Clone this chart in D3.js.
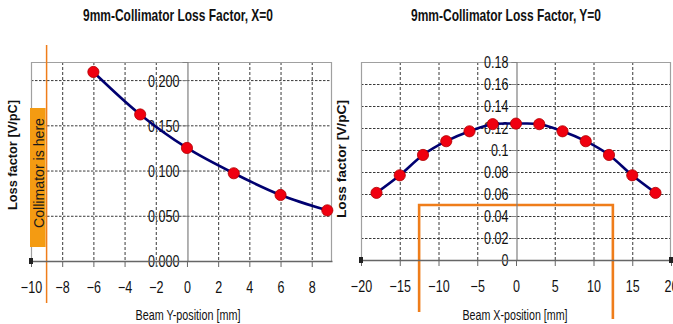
<!DOCTYPE html>
<html>
<head>
<meta charset="utf-8">
<script src="https://cdn.jsdelivr.net/npm/d3@7"></script>
<style>
  body { margin: 0; background: #fff; }
  svg { display: block; font-family: "Liberation Sans", Arial, sans-serif; }
  .title { font-size: 17px; font-weight: bold; fill: #111; }
  .tick text { font-size: 16.5px; fill: #111; font-family: "Liberation Sans", Arial, sans-serif; }
  .xTitle { font-size: 14px; fill: #111; }
  .yTitle { font-size: 13.5px; font-weight: bold; fill: #111; }
</style>
</head>
<body>
<div id="chart"></div>
<script>
// Left panel: loss factor vs beam Y-position (X=0)
var leftX = [-6, -3, 0, 3, 6, 9];
var leftLoss = [0.209, 0.162, 0.125, 0.097, 0.073, 0.056];
var leftXTicks = [-10, -8, -6, -4, -2, 0, 2, 4, 6, 8];
var leftYTicks = [0, 0.05, 0.1, 0.15, 0.2];

// Right panel: loss factor vs beam X-position (Y=0)
var rightX = [-18, -15, -12, -9, -6, -3, 0, 3, 6, 9, 12, 15, 18];
var rightLoss = [0.061, 0.077, 0.0955, 0.108, 0.117, 0.1235, 0.124, 0.1235, 0.117, 0.108, 0.0955, 0.077, 0.061];
var rightXTicks = [-20, -15, -10, -5, 0, 5, 10, 15, 20];
var rightYTicks = [0, 0.02, 0.04, 0.06, 0.08, 0.1, 0.12, 0.14, 0.16, 0.18];

var svgWidth = 673;
var svgHeight = 324;
var narrow = 0.76; // squeeze factor to imitate a narrow face

var svg = d3.select("#chart")
  .append("svg")
  .attr("width", svgWidth)
  .attr("height", svgHeight);

function drawPanel(opts) {
  var x = d3.scaleLinear().domain(opts.xDomain).range(opts.xRange);
  var y = d3.scaleLinear().domain(opts.yDomain).range(opts.yRange);
  var g = svg.append("g");

  var x0 = opts.xRange[0], x1 = opts.xRange[1];
  var yb = opts.yRange[0], yt = opts.yRange[1];

  // title
  g.append("text")
    .attr("class", "title")
    .attr("x", opts.titleX)
    .attr("y", 21)
    .attr("text-anchor", "middle")
    .attr("textLength", 190)
    .attr("lengthAdjust", "spacingAndGlyphs")
    .text(opts.title);

  // grid lines
  g.selectAll(".hgrid")
    .data(opts.yTicks.filter(d => d > 0 && y(d) > yt + 1))
    .enter().append("line")
    .attr("x1", x0).attr("x2", x1)
    .attr("y1", d => y(d) + 0.5).attr("y2", d => y(d) + 0.5)
    .attr("stroke", "#222").attr("stroke-width", 0.9)
    .attr("stroke-dasharray", "2.5,1.5");

  g.selectAll(".vgrid")
    .data(opts.xTicks.filter(d => d !== 0 && x(d) > x0 + 1 && x(d) < x1 - 1))
    .enter().append("line")
    .attr("x1", d => x(d) + 0.5).attr("x2", d => x(d) + 0.5)
    .attr("y1", yt).attr("y2", yb)
    .attr("stroke", "#222").attr("stroke-width", 0.9)
    .attr("stroke-dasharray", "3,2");

  // plot frame (top, left, right)
  g.append("path")
    .attr("d", `M${x0 + 0.5},${yb} V${yt + 0.5} H${x1 - 0.5} V${yb}`)
    .attr("fill", "none")
    .attr("stroke", "#a0a0a0")
    .attr("stroke-width", 1.2);

  // annotation behind the data
  if (opts.annotate) opts.annotate(g, x, y);

  // y axis at x = 0
  var yAxis = d3.axisLeft(y)
    .tickValues(opts.yTicks)
    .tickFormat(opts.yFormat)
    .tickSize(5)
    .tickPadding(2);
  var ya = g.append("g")
    .attr("transform", `translate(${x(0) + 0.5},0)`)
    .call(yAxis);
  ya.select(".domain").attr("stroke", "#808080").attr("stroke-width", 1.2);
  ya.selectAll(".tick line").attr("stroke", "#808080");
  ya.selectAll(".tick text")
    .attr("dy", "0.36em")
    .attr("transform", `scale(${narrow},1)`)
    .attr("x", -8 / narrow);

  // x axis at y = 0
  var xAxis = d3.axisBottom(x)
    .tickValues(opts.xTicks)
    .tickFormat(d3.format("d"))
    .tickSize(6)
    .tickPadding(11)
    .tickSizeOuter(0);
  var xa = g.append("g")
    .attr("transform", `translate(0,${y(0)})`)
    .call(xAxis);
  xa.select(".domain").attr("stroke", "#666").attr("stroke-width", 1.6);
  xa.selectAll(".tick line").attr("stroke", "#666");
  xa.selectAll(".tick text")
    .attr("transform", `scale(${narrow},1)`)
    .attr("dy", "0.9em");

  // small end markers on the x axis
  opts.endMarks.forEach(function(v) {
    g.append("rect")
      .attr("x", x(v) - 2).attr("y", y(0) - 3)
      .attr("width", 4).attr("height", 6)
      .attr("fill", "#222");
  });

  // x axis title
  g.append("text")
    .attr("class", "xTitle")
    .attr("x", opts.xTitleX)
    .attr("y", 320)
    .attr("text-anchor", "middle")
    .attr("textLength", 105)
    .attr("lengthAdjust", "spacingAndGlyphs")
    .text(opts.xTitle);

  // y axis title
  g.append("text")
    .attr("class", "yTitle")
    .attr("transform", `translate(${opts.yTitle[0]},${opts.yTitle[1]}) rotate(-90)`)
    .attr("text-anchor", "middle")
    .attr("textLength", opts.yTitle[2])
    .attr("lengthAdjust", "spacingAndGlyphs")
    .text("Loss factor [V/pC]");

  // curve
  var pts = opts.xs.map((d, i) => [d, opts.ys[i]]);
  var line = d3.line()
    .x(d => x(d[0]))
    .y(d => y(d[1]))
    .curve(d3.curveCatmullRom.alpha(0.5));

  g.append("path")
    .datum(pts)
    .attr("d", line)
    .attr("fill", "none")
    .attr("stroke", "#000070")
    .attr("stroke-width", 2.6);

  g.selectAll(".dot")
    .data(pts)
    .enter().append("circle")
    .attr("cx", d => x(d[0]))
    .attr("cy", d => y(d[1]))
    .attr("r", 5.6)
    .attr("fill", "#f00010")
    .attr("stroke", "#b00000")
    .attr("stroke-width", 0.8);
}

drawPanel({
  title: "9mm-Collimator Loss Factor, X=0",
  titleX: 178,
  xTitle: "Beam Y-position [mm]",
  xTitleX: 188,
  xs: leftX, ys: leftLoss,
  xTicks: leftXTicks, yTicks: leftYTicks,
  xDomain: [-10, 9.3], xRange: [31, 332],
  yDomain: [0, 0.22], yRange: [261, 62],
  yFormat: d3.format(".3f"),
  yTitle: [17, 155, 110],
  endMarks: [-10],
  annotate: function(g, x, y) {
    // "Collimator is here" label box and collimator line at -9 mm
    g.append("rect")
      .attr("x", x(-10) - 1).attr("y", 108)
      .attr("width", x(-9) - x(-10)).attr("height", 139)
      .attr("fill", "#f49b12");
    g.append("text")
      .attr("transform", `translate(${x(-9.5) + 5},173) rotate(-90)`)
      .attr("text-anchor", "middle")
      .attr("font-size", "14px")
      .attr("textLength", 110)
      .attr("lengthAdjust", "spacingAndGlyphs")
      .attr("fill", "#1a1a1a")
      .text("Collimator is here");
    g.append("line")
      .attr("x1", x(-9)).attr("x2", x(-9))
      .attr("y1", 45).attr("y2", 303)
      .attr("stroke", "#ef7d1a").attr("stroke-width", 1.5);
  }
});

drawPanel({
  title: "9mm-Collimator Loss Factor, Y=0",
  titleX: 506,
  xTitle: "Beam X-position [mm]",
  xTitleX: 515,
  xs: rightX, ys: rightLoss,
  xTicks: rightXTicks, yTicks: rightYTicks,
  xDomain: [-20, 20], xRange: [361, 671],
  yDomain: [0, 0.18], yRange: [260, 62],
  yFormat: d => String(+d.toFixed(2)),
  yTitle: [346, 159, 118],
  endMarks: [-20, 20],
  annotate: function(g, x, y) {
    // collimator aperture outline, +-12.5 mm
    g.append("path")
      .attr("d", `M${x(-12.5)},312 V${y(0.05)} H${x(12.5)} V319`)
      .attr("fill", "none")
      .attr("stroke", "#ef7d1a")
      .attr("stroke-width", 2.6);
  }
});
</script>
</body>
</html>
